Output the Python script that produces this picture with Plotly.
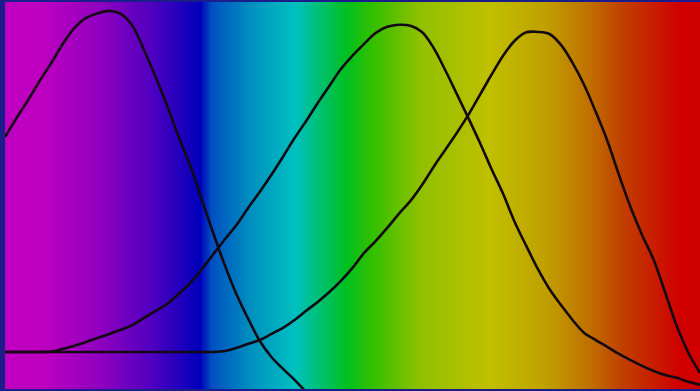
import plotly.graph_objects as go
import numpy as np

# wavelength samples (nm), every 5 nm
wavelength = list(range(400, 701, 5))

# relative cone sensitivities
s_cone = [0.632, 0.688, 0.741, 0.797, 0.850, 0.906, 0.953, 0.982, 0.996, 1.003,
          0.994, 0.959, 0.888, 0.809, 0.724, 0.632, 0.547, 0.447, 0.347, 0.253,
          0.168, 0.097, 0.032, -0.015, -0.050, -0.082, -0.118]
m_cone = [0.0, 0.0, 0.0, 0.0, 0.001, 0.009, 0.018, 0.029, 0.041, 0.053,
          0.065, 0.079, 0.100, 0.121, 0.141, 0.171, 0.203, 0.244, 0.288, 0.332,
          0.374, 0.424, 0.471, 0.521, 0.574, 0.629, 0.679, 0.732, 0.782, 0.832,
          0.871, 0.906, 0.938, 0.956, 0.962, 0.959, 0.941, 0.894, 0.829, 0.759,
          0.688, 0.615, 0.538, 0.465, 0.382, 0.312, 0.244, 0.185, 0.138, 0.094,
          0.056, 0.035, 0.015, -0.006, -0.024, -0.041, -0.056, -0.068, -0.076, -0.088,
          -0.097]
l_cone = [0.0] * 19 + [
          0.003, 0.012, 0.024, 0.035, 0.053, 0.071, 0.094, 0.121, 0.147, 0.176,
          0.209, 0.247, 0.291, 0.326, 0.365, 0.406, 0.444, 0.491, 0.544, 0.594,
          0.644, 0.697, 0.756, 0.815, 0.871, 0.915, 0.940, 0.941, 0.935, 0.903,
          0.850, 0.785, 0.706, 0.621, 0.521, 0.426, 0.344, 0.271, 0.174, 0.076,
          -0.003, -0.062]

# spectrum colours behind the curves (wavelength, colour)
spectrum_nm = [400, 415, 441, 463, 484, 489, 506, 525, 547, 558, 579, 609, 633, 652, 666, 691, 700]
spectrum_rgb = ["#c000c0", "#c000c0", "#9000c0", "#5000c0", "#0000bb", "#0050c0",
                "#0090c0", "#00c0c0", "#00c020", "#30c000", "#90c000", "#c0c000",
                "#c0a000", "#c07000", "#c04000", "#d00000", "#d00000"]

x_lo, x_hi = 400, 700
y_lo, y_hi = -0.109, 1.029

colorscale = [[(w - x_lo) / (x_hi - x_lo), c] for w, c in zip(spectrum_nm, spectrum_rgb)]
bg_x = np.arange(x_lo, x_hi + 1, 1)

fig = go.Figure()

fig.add_trace(go.Heatmap(
    x=bg_x, y=[y_lo - 0.1, y_hi + 0.1], z=[bg_x, bg_x],
    zmin=x_lo, zmax=x_hi, colorscale=colorscale,
    showscale=False, hoverinfo="skip", zsmooth="best"))

for name, vals in [("S", s_cone), ("M", m_cone), ("L", l_cone)]:
    fig.add_trace(go.Scatter(
        x=wavelength[:len(vals)], y=vals, mode="lines", name=name,
        line=dict(color="#140a14", width=2.6, shape="spline", smoothing=1.0),
        showlegend=False))

fig.update_layout(
    width=700, height=391,
    margin=dict(l=5, r=0, t=2, b=2),
    paper_bgcolor="#1b1d8a", plot_bgcolor="#1b1d8a",
    xaxis=dict(range=[x_lo, x_hi], visible=False, fixedrange=True),
    yaxis=dict(range=[y_lo, y_hi], visible=False, fixedrange=True),
)

# page has a default body margin; drop it so the figure fills the window
fig.write_html("out.html", config={"displayModeBar": False},
               post_script="document.body.style.margin='0';document.body.style.overflow='hidden';")
